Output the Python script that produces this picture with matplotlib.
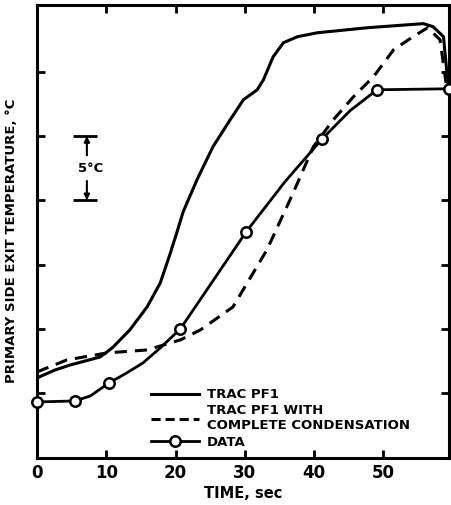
import matplotlib.pyplot as plt
from matplotlib.lines import Line2D

# values (temperature in deg C relative to first tick)
trac_t = [0, 2.6, 4.8, 9.1, 10.1, 11.0, 13.4, 15.9, 17.8, 19.2, 20.2, 21.1, 23.1,
          25.4, 27.9, 29.8, 31.8, 32.7, 34.1, 35.6, 37.6, 40.5, 47.7, 55.8, 57.2,
          58.7, 59.4]
trac_T = [1.17, 1.79, 2.18, 2.80, 3.19, 3.58, 4.91, 6.70, 8.57, 10.8, 12.5, 14.1,
          16.59, 19.16, 21.27, 22.82, 23.60, 24.38, 26.17, 27.27, 27.73, 28.04,
          28.43, 28.75, 28.51, 27.73, 23.76]

cond_t = [0, 4.3, 10.1, 15.9, 20.7, 23.6, 28.3, 33.2, 37.0, 39.9, 42.8, 45.7,
          48.6, 51.5, 54.3, 56.4, 58.2, 59.1]
cond_T = [1.64, 2.57, 3.12, 3.35, 4.13, 4.91, 6.70, 11.14, 15.58, 19.16, 21.27,
          23.06, 24.62, 26.72, 27.73, 28.43, 27.50, 23.99]

data_curve_t = [0, 5.5, 7.7, 10.4, 12.7, 15.3, 17.8, 20.7, 25.4, 30.2, 35.8,
                41.2, 45.2, 49.1, 59.5]
data_curve_T = [-0.70, -0.62, -0.23, 0.78, 1.48, 2.34, 3.51, 4.99, 8.72, 12.54,
                16.44, 19.79, 21.97, 23.60, 23.68]

data_t = [0, 5.5, 10.4, 20.7, 30.2, 41.2, 49.1, 59.5]
data_T = [-0.70, -0.62, 0.78, 4.99, 12.54, 19.79, 23.60, 23.68]

x_ticks = [0, 10, 20, 30, 40, 50]
y_ticks = [0, 5, 10, 15, 20, 25]

plt.rcParams['font.family'] = 'DejaVu Sans'
plt.rcParams['font.weight'] = 'bold'

fig = plt.figure(figsize=(4.52, 5.05), dpi=100)
ax = fig.add_axes([0.0819, 0.0931, 0.9115, 0.897])

ax.plot(trac_t, trac_T, color='black', lw=2.2, solid_joinstyle='round')
ax.plot(cond_t, cond_T, color='black', lw=2.2, dashes=(4, 2.6))
ax.plot(data_curve_t, data_curve_T, color='black', lw=2.0, solid_joinstyle='round')
ax.plot(data_t, data_T, 'o', color='black', mfc='white', mec='black', ms=7.5,
        mew=1.8, clip_on=False, zorder=5)

ax.set_xlim(0, 59.5)
ax.set_ylim(-5.06, 30.2)
ax.set_xticks(x_ticks)
ax.set_yticks(y_ticks)
ax.set_yticklabels([])
ax.tick_params(direction='in', length=6, width=2, top=True, right=True,
               labelsize=12, pad=4)
for s in ax.spines.values():
    s.set_linewidth(2.2)

ax.set_xlabel('TIME, sec', fontsize=10.5, fontweight='bold', labelpad=3)
ax.set_ylabel('PRIMARY SIDE EXIT TEMPERATURE, °C', fontsize=9.5, fontweight='bold')
ax.yaxis.set_label_coords(-0.045, 0.48)

# 5 deg C scale bar
ax.hlines([15, 20], 5.2, 8.7, color='black', lw=2)
ax.text(7.8, 17.5, '5°C', ha='center', va='center', fontsize=9.5, fontweight='bold')
ax.annotate('', xy=(7.2, 20), xytext=(7.2, 18.5),
            arrowprops=dict(arrowstyle='-|>', color='black', lw=1.5, mutation_scale=8,
                            shrinkA=0, shrinkB=0))
ax.annotate('', xy=(7.2, 15), xytext=(7.2, 16.5),
            arrowprops=dict(arrowstyle='-|>', color='black', lw=1.5, mutation_scale=8,
                            shrinkA=0, shrinkB=0))

handles = [
    Line2D([], [], color='black', lw=2.2),
    Line2D([], [], color='black', lw=2.2, dashes=(3, 1.6)),
    Line2D([], [], color='black', lw=2.0, marker='o', mfc='white', mec='black',
           ms=7.5, mew=1.8),
]
labels = ['TRAC PF1', 'TRAC PF1 WITH\nCOMPLETE CONDENSATION', 'DATA']
ax.legend(handles, labels, loc='lower left', bbox_to_anchor=(0.255, 0.0),
          frameon=False, handlelength=3.6, handletextpad=0.6, labelspacing=0.25,
          prop={'size': 9.5, 'weight': 'bold'}, borderpad=0.2)

fig.savefig('out.png', dpi=100)
